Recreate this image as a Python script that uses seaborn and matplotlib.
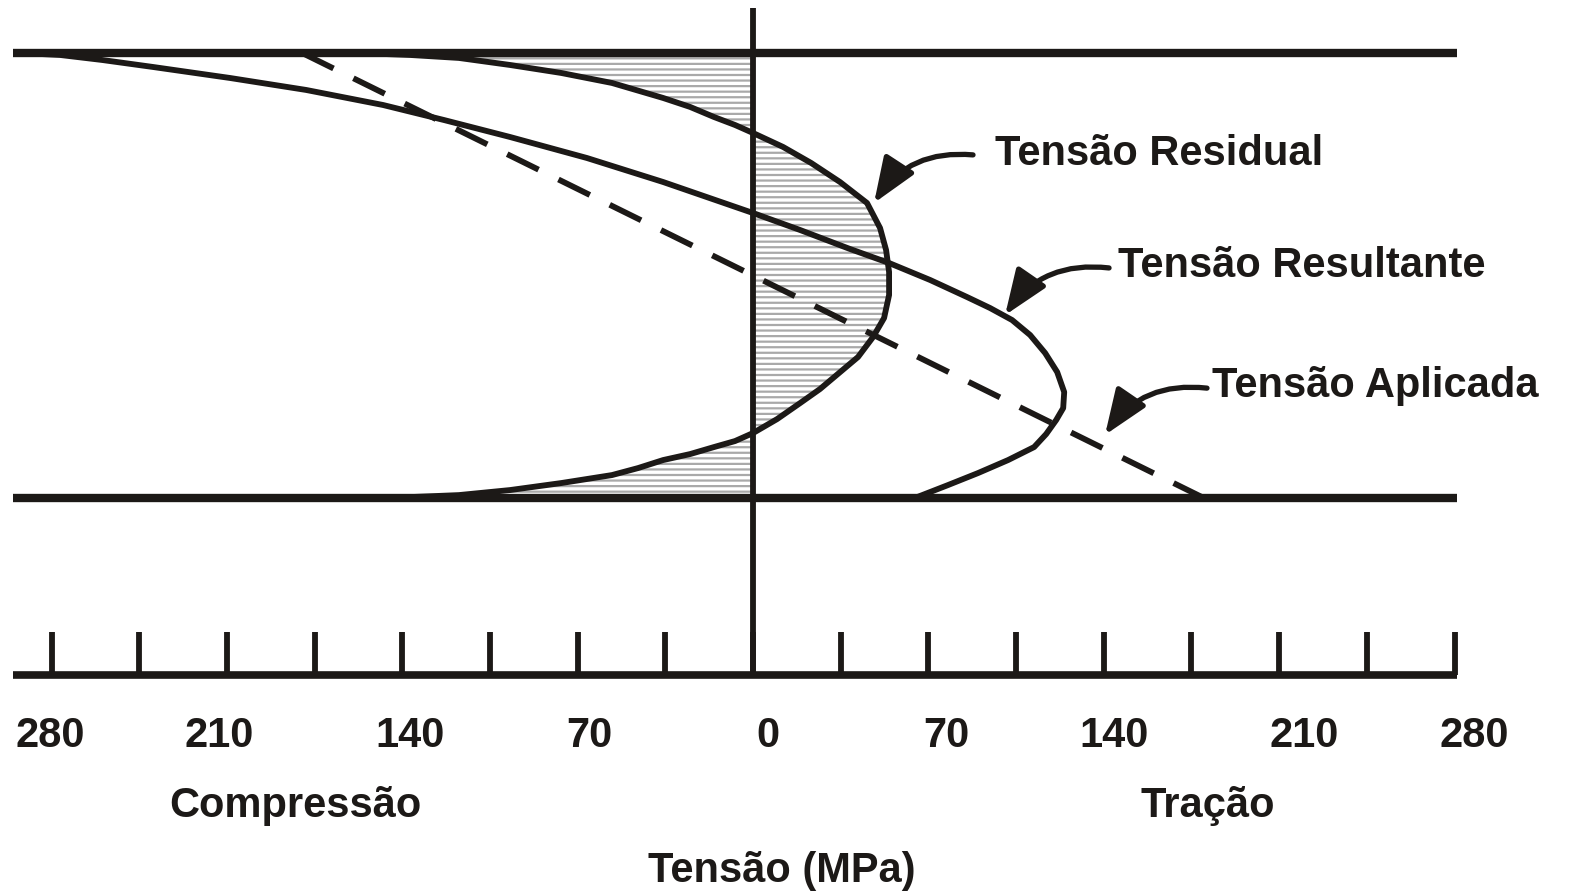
import numpy as np
import pandas as pd
import matplotlib
matplotlib.use("Agg")
import matplotlib.pyplot as plt
import seaborn as sns

# ---------------- data (stress in MPa, depth as fraction of thickness) ----------------
residual_stress = [-158.1, -136.9, -117.4, -97.0, -76.6, -56.3, -35.9, -25.1, -15.6, -7.2, 0.0, 12.0,
                   23.2, 34.7, 45.5, 50.7, 53.1, 54.3, 54.3, 52.3, 47.9, 41.9, 34.3, 26.7, 18.8, 9.6,
                   0.0, -7.2, -15.6, -25.1, -35.9, -45.9, -56.3, -76.6, -97.0, -117.4, -136.9, -158.1]
residual_depth = [0.0, 0.0045, 0.0112, 0.0270, 0.0449, 0.0674, 0.1011, 0.1213, 0.1438, 0.1618, 0.1798,
                  0.2112, 0.2472, 0.2899, 0.3371, 0.3933, 0.4427, 0.4921, 0.5438, 0.5955, 0.6382,
                  0.6831, 0.7191, 0.7551, 0.7865, 0.8225, 0.8539, 0.8719, 0.8854, 0.9011, 0.9146,
                  0.9326, 0.9483, 0.9663, 0.9820, 0.9933, 0.9978, 1.0]

applied_stress = [-180, 180]
applied_depth = [0.0, 1.0]

resultant_stress = [-292.6, -276.6, -259.9, -239.5, -208.8, -178.4, -147.7, -123.4, -97.0, -66.3, -35.9,
                    0.0, 18.8, 38.7, 54.3, 70.7, 85.4, 94.6, 103.4, 110.6, 116.6, 121.4, 124.2, 123.8,
                    121.0, 117.0, 112.2, 101.8, 89.8, 77.8, 65.5]
resultant_depth = [0.0, 0.0045, 0.0157, 0.0315, 0.0562, 0.0831, 0.1169, 0.1506, 0.1888, 0.2360, 0.2899,
                   0.3596, 0.3978, 0.4404, 0.4719, 0.5101, 0.5483, 0.5730, 0.6000, 0.6337, 0.6742,
                   0.7169, 0.7618, 0.7978, 0.8247, 0.8562, 0.8854, 0.9146, 0.9438, 0.9708, 0.9978]

tick_values = list(range(-280, 281, 35))
label_values = [-280, -210, -140, -70, 0, 70, 140, 210, 280]
label_texts = ["280", "210", "140", "70", "0", "70", "140", "210", "280"]

curve_labels = ["Tensão Residual", "Tensão Resultante", "Tensão Aplicada"]
side_labels = ["Compressão", "Tração"]
axis_title = "Tensão (MPa)"

# ---------------- layout / style ----------------
PX_PER_MPA = 2.505
label_nudge_px = [-1, -8, 8, 12, 15, 18, 10, 25, 20]

sns.set_theme(style="white")
plt.rcParams["font.family"] = ["Liberation Sans", "DejaVu Sans"]
plt.rcParams["font.weight"] = "bold"
plt.rcParams["hatch.linewidth"] = 1.6
INK = "#1c1917"
FS = 30
CURVE_LW = 4.2

fig = plt.figure(figsize=(15.74, 8.96), dpi=100)
ax = fig.add_axes([0, 0, 1, 1])

# hatched residual region
ax.fill_betweenx(residual_depth, residual_stress, 0, facecolor="white", edgecolor="#a9a9a9",
                 hatch="---", linewidth=0, zorder=1)

# specimen boundaries and zero line
x_left, x_right = -295.4, 281.0
ax.hlines([0.0, 1.0], x_left, x_right, color=INK, linewidth=6, zorder=3)
ax.vlines(0, -0.101, 1.398, color=INK, linewidth=4.2, zorder=3)

# curves via seaborn
df_res = pd.DataFrame({"s": residual_stress, "d": residual_depth})
df_app = pd.DataFrame({"s": applied_stress, "d": applied_depth})
df_tot = pd.DataFrame({"s": resultant_stress, "d": resultant_depth})
for df in (df_res, df_tot):
    sns.lineplot(data=df, x="s", y="d", sort=False, estimator=None, color=INK, linewidth=CURVE_LW,
                 ax=ax, zorder=4)
    ax.lines[-1].set_solid_joinstyle("round")
sns.lineplot(data=df_app, x="s", y="d", sort=False, estimator=None, color=INK, linewidth=CURVE_LW,
             ax=ax, zorder=4)
ax.lines[-1].set_dashes((6, 3.8))

ax.set_xlim(-300.6, 327.7)
ax.set_ylim(1.894, -0.119)
ax.set_axis_off()

# stress scale
ax.hlines(1.398, x_left, x_right, color=INK, linewidth=5.5, zorder=3)
ax.vlines(tick_values, 1.301, 1.398, color=INK, linewidth=4.2, zorder=3)
for v, t, n in zip(label_values, label_texts, label_nudge_px):
    ax.text(v + n / PX_PER_MPA, 1.5596, t, ha="center", va="baseline", fontsize=FS,
            fontweight="bold", color=INK)

ax.text(-182.8, 1.7169, side_labels[0], ha="center", va="baseline", fontsize=FS, fontweight="bold",
        color=INK)
ax.text(181.6, 1.7169, side_labels[1], ha="center", va="baseline", fontsize=FS, fontweight="bold",
        color=INK)
ax.text(11.6, 1.8629, axis_title, ha="center", va="baseline", fontsize=FS, fontweight="bold", color=INK)

# curve annotations with curved arrows
annots = [
    (curve_labels[0], (96.6, 0.2517), (87.8, 0.229), (48.3, 0.337)),
    (curve_labels[1], (145.7, 0.5034), (142.1, 0.483), (100.6, 0.589)),
    (curve_labels[2], (183.2, 0.773), (181.2, 0.753), (140.5, 0.858)),
]
for text, tpos, start, tip in annots:
    ax.text(tpos[0], tpos[1], text, ha="left", va="baseline", fontsize=FS, fontweight="bold", color=INK)
    ax.annotate("", xy=tip, xytext=start,
                arrowprops=dict(arrowstyle="-|>,head_length=1.15,head_width=0.45", mutation_scale=24,
                                connectionstyle="arc3,rad=0.3", color=INK, lw=3.8,
                                shrinkA=0, shrinkB=0),
                zorder=5)

fig.savefig("out.png", dpi=100, facecolor="white")
